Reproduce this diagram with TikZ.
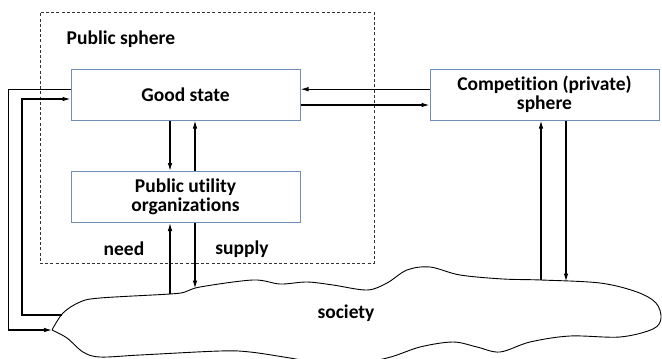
\documentclass[tikz,border=0pt]{standalone}
\usepackage{fontspec}
\setmainfont{Carlito}[Ligatures={NoCommon}]
\usetikzlibrary{arrows.meta}
\definecolor{boxblue}{RGB}{112,142,184}
\newcommand\lblfont{\bfseries\fontsize{19.5}{19.5}\selectfont}
\tikzset{
  box/.style={draw=boxblue, line width=1pt, fill=white, minimum width=229pt,
    minimum height=51pt, align=center, font=\lblfont, inner sep=0pt},
  lbl/.style={font=\lblfont, inner sep=0pt},
  arr/.style={-{Latex[length=8pt,width=4.6pt]}, line width=1.2pt},
  sphere/.style={draw=black!80, line width=0.8pt, dash pattern=on 3pt off 2.2pt},
  cloudline/.style={line width=0.9pt}
}
\begin{document}
\begin{tikzpicture}[x=1pt,y=-1pt]
  \useasboundingbox (0,0) rectangle (662,359);
  \clip (0,0) rectangle (662,359);

  % public sphere frame
  \node[sphere, minimum width=334pt, minimum height=251pt, inner sep=0pt] (pub) at (207,137.5) {};
  \node[lbl] (publbl) at (121,39) {Public sphere};

  % boxes
  \node[box] (gs) at (185.5,94.5) {Good state};
  \node[box] (comp) at (544.5,94.5) {Competition (private)\\sphere};
  \node[box] (puo) at (185.5,197) {Public utility\\organizations};

  % society
  \draw[cloudline] plot[smooth, tension=0.55] coordinates {
    (52,330) (63,313) (80,302) (100,298) (170,294) (185,292) (200,287)
    (253,280) (280,284) (307,282) (333,285) (367,290) (387,283) (407,270)
    (430,267) (460,275) (503,279) (541,280) (600,283) (637,292) (656,303)
    (661,318) (653,329) (620,337) (570,336) (530,342) (500,352) (477,347)
    (453,342) (420,347) (387,358) (340,366) (290,358) (250,352) (220,351)
    (140,355) (100,357) (83,352) (67,338) (52,330)};
  \node[lbl] (soc) at (346,313) {society};

  \coordinate (tip) at (52,330);
  \coordinate (inl) at (62,315);
  \coordinate (need) at (170,294);
  \coordinate (supply) at (195,288.5);
  \coordinate (cup) at (541,280);
  \coordinate (cdown) at (566,281.5);

  % good state <-> competition
  \draw[arr] ([yshift=5.3pt]comp.west) -- ([yshift=5.3pt]gs.east);
  \draw[arr] ([yshift=-10.5pt]gs.east) -- ([yshift=-10.5pt]comp.west);

  % good state <-> public utility organizations
  \draw[arr] ([xshift=-15.5pt]gs.south) -- ([xshift=-15.5pt]puo.north);
  \draw[arr] ([xshift=9.5pt]puo.north) -- ([xshift=9.5pt]gs.south);

  % public utility organizations <-> society
  \draw[arr] (need) -- (need |- puo.south);
  \draw[arr] (supply |- puo.south) -- (supply);
  \node[lbl] (needlbl) at (124,249) {need};
  \node[lbl] (supplylbl) at (242,249) {supply};

  % competition <-> society
  \draw[arr] (cup) -- (cup |- comp.south);
  \draw[arr] (cdown |- comp.south) -- (cdown);

  % feedback loops on the left
  \draw[arr] ([yshift=5.3pt]gs.west) -- ++(-62,0) |- (tip);
  \draw[arr] (inl) -- ++(-40,0) |- ([yshift=-4.5pt]gs.west);
\end{tikzpicture}
\end{document}
